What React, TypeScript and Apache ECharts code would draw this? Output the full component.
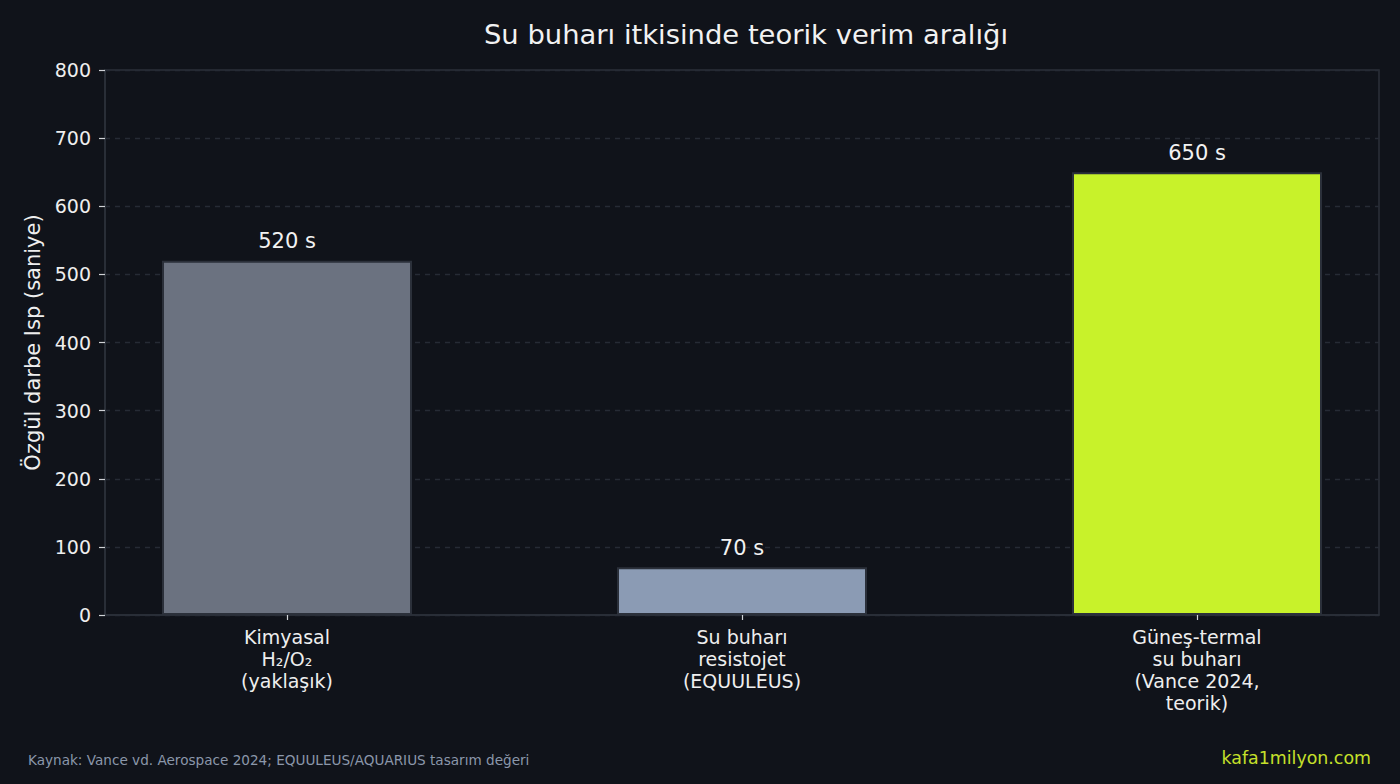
import { useEffect, useRef } from 'react'
import * as echarts from 'echarts'

const categories = ['Kimyasal\nH₂/O₂\n(yaklaşık)', 'Su buharı\nresistojet\n(EQUULEUS)', 'Güneş-termal\nsu buharı\n(Vance 2024,\nteorik)']
const ispValues = [520, 70, 650]
const barColors = ['#6b7280', '#8b9bb4', '#c8f22a']
const yTicks = [0, 100, 200, 300, 400, 500, 600, 700, 800]

const FONT = '"DejaVu Sans", Verdana, sans-serif'
const BG = '#10131a'
const SPINE = '#2b303a'

export default function App() {
  const containerRef = useRef<HTMLDivElement>(null)

  useEffect(() => {
    if (!containerRef.current) return
    const chart = echarts.init(containerRef.current, null, { renderer: 'svg' })

    chart.setOption({
      animation: false,
      backgroundColor: BG,
      textStyle: { fontFamily: FONT },
      title: {
        text: 'Su buharı itkisinde teorik verim aralığı',
        left: 741,
        top: 16,
        textAlign: 'center',
        textStyle: { color: '#f2f2f2', fontSize: 27.4, fontWeight: 'normal', fontFamily: FONT },
      },
      grid: {
        left: 105,
        right: 21,
        top: 70,
        bottom: 169,
        show: true,
        borderColor: SPINE,
        borderWidth: 1.5,
        backgroundColor: 'transparent',
      },
      xAxis: {
        type: 'value',
        min: -0.4,
        max: 2.4,
        axisLine: { show: true, onZero: false, lineStyle: { color: SPINE, width: 1.5 } },
        splitLine: { show: false },
        axisTick: {
          show: true,
          customValues: [0, 1, 2],
          length: 5,
          lineStyle: { color: '#cfd2d6', width: 1.2 },
        },
        axisLabel: {
          customValues: [0, 1, 2],
          formatter: (v: number) => categories[Math.round(v)] ?? '',
          color: '#eeeeee',
          fontSize: 19,
          lineHeight: 22,
          margin: 11,
          fontFamily: FONT,
        },
      },
      yAxis: {
        type: 'value',
        min: 0,
        max: 800,
        interval: 100,
        name: 'Özgül darbe Isp (saniye)',
        nameLocation: 'middle',
        nameGap: 58,
        nameTextStyle: { color: '#eeeeee', fontSize: 21, fontFamily: FONT },
        axisLine: { show: true, onZero: false, lineStyle: { color: SPINE, width: 1.5 } },
        axisTick: { show: true, length: 6, lineStyle: { color: '#cfd2d6', width: 1.2 } },
        axisLabel: {
          color: '#eeeeee',
          fontSize: 19,
          margin: 14,
          fontFamily: FONT,
          formatter: (v: number) => (yTicks.includes(v) ? String(v) : ''),
        },
        splitLine: { show: true, lineStyle: { color: '#262b35', type: [5, 5], width: 1.3 } },
      },
      series: [
        {
          type: 'bar',
          barWidth: 250,
          data: ispValues.map((v, i) => ({
            value: [i, v],
            itemStyle: { color: barColors[i], borderColor: SPINE, borderWidth: 2 },
          })),
          label: {
            show: true,
            position: 'top',
            distance: 9,
            color: '#f2f2f2',
            fontSize: 21,
            fontFamily: FONT,
            formatter: (p: any) => `${p.value[1]} s`,
          },
        },
      ],
      graphic: [
        {
          type: 'text',
          left: 28,
          top: 753,
          style: {
            text: 'Kaynak: Vance vd. Aerospace 2024; EQUULEUS/AQUARIUS tasarım değeri',
            fill: '#8b97aa',
            font: `13.6px ${FONT}`,
          },
        },
        {
          type: 'text',
          right: 29,
          top: 749,
          style: {
            text: 'kafa1milyon.com',
            fill: '#c6e02a',
            font: `17.4px ${FONT}`,
          },
        },
      ],
    })

    return () => {
      chart.dispose()
    }
  }, [])

  return (
    <div
      ref={containerRef}
      style={{ position: 'fixed', left: 0, top: 0, width: 1400, height: 784 }}
    />
  )
}
